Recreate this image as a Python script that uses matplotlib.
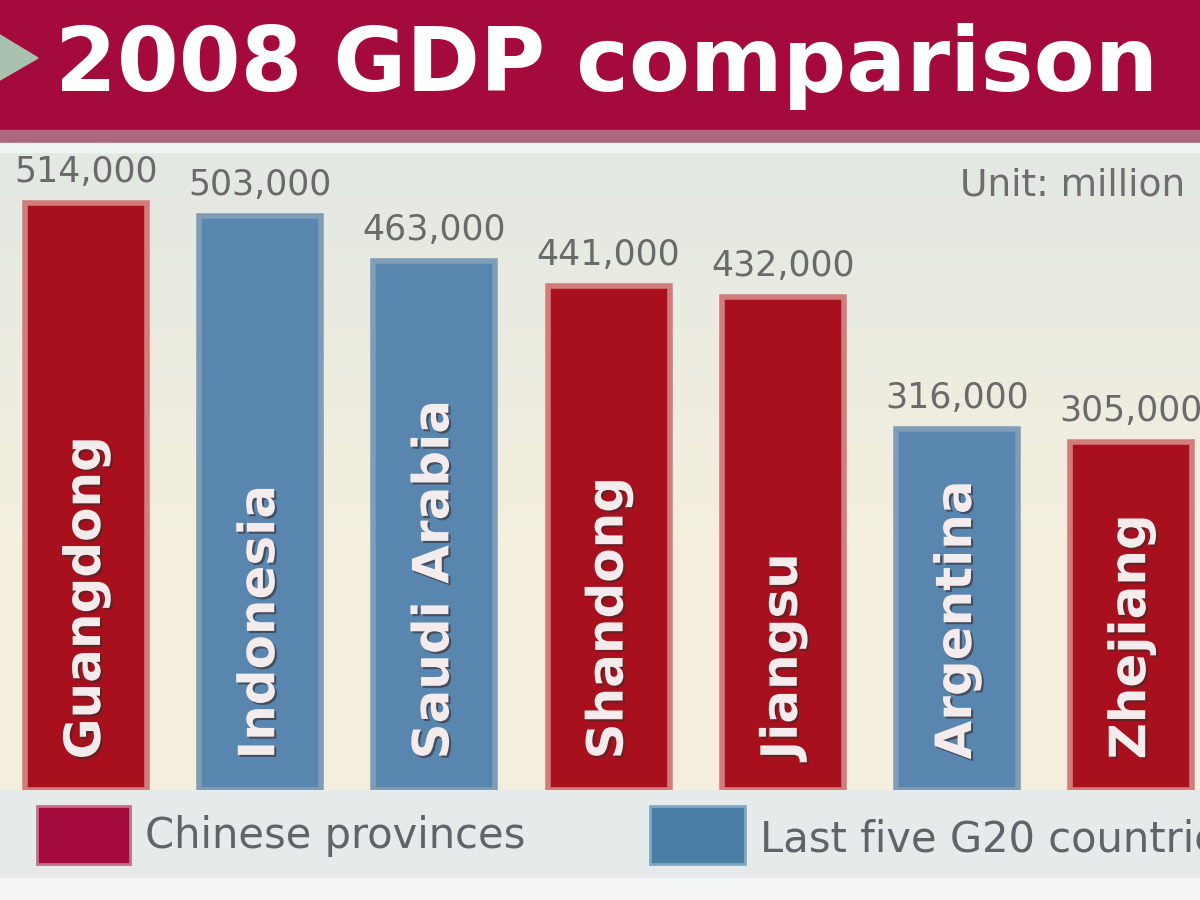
import matplotlib
matplotlib.use("Agg")
import matplotlib.pyplot as plt
import numpy as np
from matplotlib.patches import Rectangle, Polygon
import matplotlib.patheffects as pe

# ---- data ----
regions = ["Guangdong", "Indonesia", "Saudi Arabia", "Shandong", "Jiangsu", "Argentina", "Zhejiang"]
gdp = [514000, 503000, 463000, 441000, 432000, 316000, 305000]
group = ["china", "g20", "g20", "china", "china", "g20", "china"]
value_labels = ["514,000", "503,000", "463,000", "441,000", "432,000", "316,000", "305,000"]
title = "2008 GDP comparison"
unit_text = "Unit: million USD"
legend_labels = ["Chinese provinces", "Last five G20 countries"]

bar_fill = {"china": "#A8101E", "g20": "#5886AE"}
bar_edge = {"china": "#D27C7C", "g20": "#7F9DB6"}

W, H = 1200, 900
fig = plt.figure(figsize=(12, 9), dpi=100)

# ---- background (pixel coordinates) ----
bg = fig.add_axes([0, 0, 1, 1], zorder=0)
bg.set_xlim(0, W)
bg.set_ylim(H, 0)
bg.axis("off")
grad = np.linspace(0, 1, 256)[:, None]
c_top = np.array([0.89, 0.91, 0.89])
c_bot = np.array([0.96, 0.94, 0.87])
t = np.clip(grad * 1.6, 0, 1)
img = c_top[None, None, :] * (1 - t[..., None]) + c_bot[None, None, :] * t[..., None]
img = np.repeat(img, 2, axis=1)
bg.imshow(img, extent=[0, W, 790, 150], aspect="auto", zorder=0)
bg.add_patch(Rectangle((0, 0), W, 130, color="#A50A3C", zorder=1))
bg.add_patch(Rectangle((0, 130), W, 13, color="#AE687E", zorder=1))
bg.add_patch(Rectangle((0, 143), W, 9, color="#EEF5F2", zorder=1))
bg.add_patch(Rectangle((0, 790), W, 110, color="#E6EAEA", zorder=1))
bg.add_patch(Rectangle((0, 878), W, 22, color="#F4F6F6", zorder=1))
bg.add_patch(Polygon([(0, 35), (38, 58), (0, 80)], closed=True, color="#A9C2B0", zorder=2))
bg.text(55, 66, title, color="white", fontsize=64, fontweight="bold",
        va="center", ha="left", zorder=3)
bg.text(960, 186, unit_text, color="#6E6E6E", fontsize=27, va="center", ha="left", zorder=3)

# legend
bg.add_patch(Rectangle((37, 806), 93, 58, facecolor="#A50A3C", edgecolor="#C07088", lw=2, zorder=3))
bg.text(145, 836, legend_labels[0], color="#5E6468", fontsize=30, va="center", ha="left", zorder=3)
bg.add_patch(Rectangle((650, 806), 95, 58, facecolor="#4A7EA6", edgecolor="#80A8C0", lw=2, zorder=3))
bg.text(760, 840, legend_labels[1], color="#5E6468", fontsize=30, va="center", ha="left", zorder=3)

# ---- main bar axes ----
spacing = 174.2
first_center = 86
ax = fig.add_axes([0, 1 - 790 / H, 1, (790 - 155) / H], zorder=2)
ax.patch.set_alpha(0)
ax.set_xlim(-first_center / spacing, (W - first_center) / spacing)
ax.set_ylim(0, 556000)
ax.axis("off")

x = np.arange(len(regions))
colors = [bar_fill[g] for g in group]
edges = [bar_edge[g] for g in group]
bars = ax.bar(x, gdp, width=0.70, color=colors, edgecolor=edges, linewidth=4)

for xi, v, lab, name in zip(x, gdp, value_labels, regions):
    ax.annotate(lab, (xi, v), xytext=(0, 10), textcoords="offset points",
                ha="center", va="bottom", fontsize=25, color="#6A6A6A")
    ax.annotate(name, (xi, 0), xytext=(0, 22), textcoords="offset points",
                ha="center", va="bottom", rotation=90, fontsize=36,
                fontweight="bold", color="#F4ECEC",
                path_effects=[pe.withSimplePatchShadow(offset=(1.5, -1.5), shadow_rgbFace="#3A2A2A", alpha=0.6)])

fig.savefig("out.png", dpi=100)
